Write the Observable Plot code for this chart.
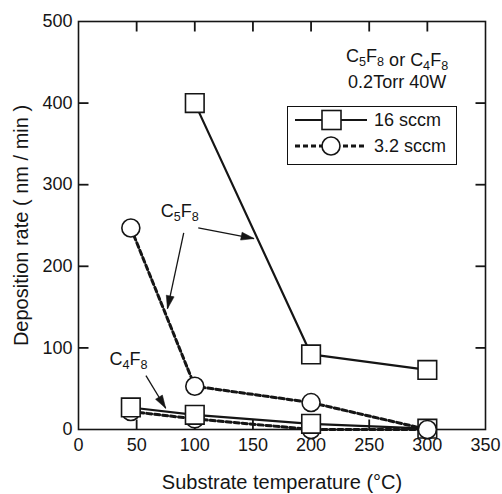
<!DOCTYPE html>
<html><head><meta charset="utf-8">
<script src="https://cdn.jsdelivr.net/npm/d3@7"></script>
<script src="https://cdn.jsdelivr.net/npm/@observablehq/plot@0.6"></script>
<style>
body{margin:0;background:#fff;font-family:"Liberation Sans",Arial,sans-serif;}
#wrap{position:relative;width:502px;height:494px;}
#legend{position:absolute;left:287px;top:106px;width:168px;height:57px;border:1.6px solid #111;background:#fff;}
</style></head><body><div id="wrap"></div>
<script>
// Data
const temps = [45, 100, 200, 300];
const c5f8_16 = [null, 400, 92, 73];
const c5f8_32 = [247, 53, 33, 0];
const c4f8_16 = [27, 18, 7, 1];
const c4f8_32 = [22, 13, 0, 0];
const xTicks = [0, 50, 100, 150, 200, 250, 300, 350];
const yTicks = [0, 100, 200, 300, 400, 500];
const xDomain = [0, 350], yDomain = [0, 500];
const xTitle = "Substrate temperature (°C)";
const yTitle = "Deposition rate ( nm / min )";
const legendLabels = ["16 sccm", "3.2 sccm"];
// annotations (data-space anchors)
const notes = [
  {text: "C5F8", x: 87, y: 267},
  {text: "C4F8", x: 43, y: 86}
];
const condNotes = [
  {text: "C5F8 or C4F8", x: 274, y: 458},
  {text: "0.2Torr 40W", x: 274, y: 425}
];
const arrows = [
  {x1: 103, y1: 247, x2: 151, y2: 234},
  {x1: 90.5, y1: 241, x2: 76.5, y2: 148},
  {x1: 58, y1: 66, x2: 75, y2: 26}
];

function rows(vals, gas) {
  return temps.map((t, i) => ({t, v: vals[i], gas})).filter(d => d.v != null);
}
const s5_16 = rows(c5f8_16, "C5F8"), s5_32 = rows(c5f8_32, "C5F8");
const s4_16 = rows(c4f8_16, "C4F8"), s4_32 = rows(c4f8_32, "C4F8");
const solid = [...s5_16, ...s4_16];
const dashed = [...s5_32, ...s4_32];

const ink = "#151515";
const T = 10; // inward tick length, px
const layout = {
  width: 502, height: 494,
  marginLeft: 78, marginRight: 17, marginTop: 21, marginBottom: 65,
  x: {domain: xDomain},
  y: {domain: yDomain}
};
const head = {draw(c) { c.moveTo(0, 0); c.lineTo(4, 13); c.lineTo(-4, 13); c.closePath(); }};

// pass 1: get the scales (tick lengths and arrow-head orientation in screen space)
const probe = Plot.plot({...layout, marks: [Plot.frame()]});
const sx = probe.scale("x"), sy = probe.scale("y");
const kx = Math.abs(sx.apply(1) - sx.apply(0)), ky = Math.abs(sy.apply(0) - sy.apply(1));
const tx = T / kx, ty = T / ky;
const heads = arrows.map(a => {
  const dxp = sx.apply(a.x2) - sx.apply(a.x1);
  const dyp = sy.apply(a.y2) - sy.apply(a.y1);
  return {x: a.x2, y: a.y2, angle: Math.atan2(dxp, -dyp) * 180 / Math.PI};
});

// tick segments built from the tick arrays
const innerX = xTicks.slice(1, -1), innerY = yTicks.slice(1, -1);
const xTickSegs = innerX.flatMap(v => [
  {x1: v, x2: v, y1: yDomain[0], y2: yDomain[0] + ty},
  {x1: v, x2: v, y1: yDomain[1], y2: yDomain[1] - ty}
]);
const yTickSegs = innerY.flatMap(v => [
  {x1: xDomain[0], x2: xDomain[0] + tx, y1: v, y2: v},
  {x1: xDomain[1], x2: xDomain[1] - tx, y1: v, y2: v}
]);

const chart = Plot.plot({
  ...layout,
  style: {fontFamily: "'Liberation Sans', Arial, sans-serif", color: ink, background: "#fff"},
  marks: [
    Plot.frame({stroke: ink, strokeWidth: 1.6}),
    Plot.axisX(xTicks, {anchor: "bottom", tickSize: 0, tickPadding: 9, fontSize: 18, label: null}),
    Plot.axisY(yTicks, {anchor: "left", tickSize: 0, tickPadding: 6, fontSize: 18, label: null}),
    Plot.text([xTitle], {text: d => d, frameAnchor: "bottom", dy: 53, lineAnchor: "middle", fontSize: 20, fill: ink}),
    Plot.text([yTitle], {text: d => d, frameAnchor: "left", dx: -57, rotate: -90, lineAnchor: "middle", textAnchor: "middle", fontSize: 20, fill: ink}),
    Plot.link([...xTickSegs, ...yTickSegs], {x1: "x1", y1: "y1", x2: "x2", y2: "y2", stroke: ink, strokeWidth: 1.8}),
    Plot.line(solid, {x: "t", y: "v", z: "gas", stroke: ink, strokeWidth: 2.2}),
    Plot.line(dashed, {x: "t", y: "v", z: "gas", stroke: ink, strokeWidth: 3, strokeDasharray: "5,3"}),
    Plot.dot(s4_32, {x: "t", y: "v", r: 9, symbol: "circle", fill: "#fff", stroke: ink, strokeWidth: 1.6}),
    Plot.dot(s4_16, {x: "t", y: "v", r: 10.5, symbol: "square", fill: "#fff", stroke: ink, strokeWidth: 1.6}),
    Plot.dot(s5_16, {x: "t", y: "v", r: 10.5, symbol: "square", fill: "#fff", stroke: ink, strokeWidth: 1.6}),
    Plot.dot(s5_32, {x: "t", y: "v", r: 9, symbol: "circle", fill: "#fff", stroke: ink, strokeWidth: 1.6}),
    Plot.link(arrows, {x1: "x1", y1: "y1", x2: "x2", y2: "y2", stroke: ink, strokeWidth: 1.3}),
    Plot.dot(heads, {x: "x", y: "y", rotate: "angle", symbol: head, r: 3, fill: ink, stroke: ink, strokeWidth: 0.5}),
    Plot.text(notes, {x: "x", y: "y", text: "text", fontSize: 18, fill: ink, textAnchor: "middle"}),
    Plot.text(condNotes, {x: "x", y: "y", text: "text", fontSize: 18, fill: ink, textAnchor: "middle"})
  ]
});

// subscripts for chemical formulas
chart.querySelectorAll("text").forEach(t => {
  const target = t.querySelector("tspan") || t;
  const s = target.textContent;
  if (/C\dF\d/.test(s)) {
    const html = s.replace(/C(\d)F(\d)/g, 'C<tspan dy="4" font-size="0.7em">$1</tspan><tspan dy="-4">F</tspan><tspan dy="4" font-size="0.7em">$2</tspan><tspan dy="-4"></tspan>');
    target.innerHTML = html;
  }
});

const wrap = document.getElementById("wrap");
wrap.appendChild(chart);

// legend (inside the plot area, as in the reference)
const leg = document.createElement("div");
leg.id = "legend";
const ns = "http://www.w3.org/2000/svg";
const ls = document.createElementNS(ns, "svg");
ls.setAttribute("width", 168); ls.setAttribute("height", 57);
ls.style.fontFamily = "'Liberation Sans', Arial, sans-serif";
legendLabels.forEach((lab, i) => {
  const y = 13 + i * 26;
  const line = document.createElementNS(ns, "line");
  line.setAttribute("x1", 7); line.setAttribute("x2", 79);
  line.setAttribute("y1", y); line.setAttribute("y2", y);
  line.setAttribute("stroke", ink);
  line.setAttribute("stroke-width", i ? 3 : 2.2);
  if (i) line.setAttribute("stroke-dasharray", "5,3");
  ls.appendChild(line);
  let m;
  if (i === 0) {
    m = document.createElementNS(ns, "rect");
    m.setAttribute("x", 34); m.setAttribute("y", y - 9.5);
    m.setAttribute("width", 19); m.setAttribute("height", 19);
  } else {
    m = document.createElementNS(ns, "circle");
    m.setAttribute("cx", 43); m.setAttribute("cy", y); m.setAttribute("r", 9);
  }
  m.setAttribute("fill", "#fff"); m.setAttribute("stroke", ink); m.setAttribute("stroke-width", 1.6);
  ls.appendChild(m);
  const t = document.createElementNS(ns, "text");
  t.setAttribute("x", 86); t.setAttribute("y", y + 6);
  t.setAttribute("font-size", 18); t.setAttribute("fill", ink);
  t.textContent = lab;
  ls.appendChild(t);
});
leg.appendChild(ls);
wrap.appendChild(leg);
</script></body></html>
